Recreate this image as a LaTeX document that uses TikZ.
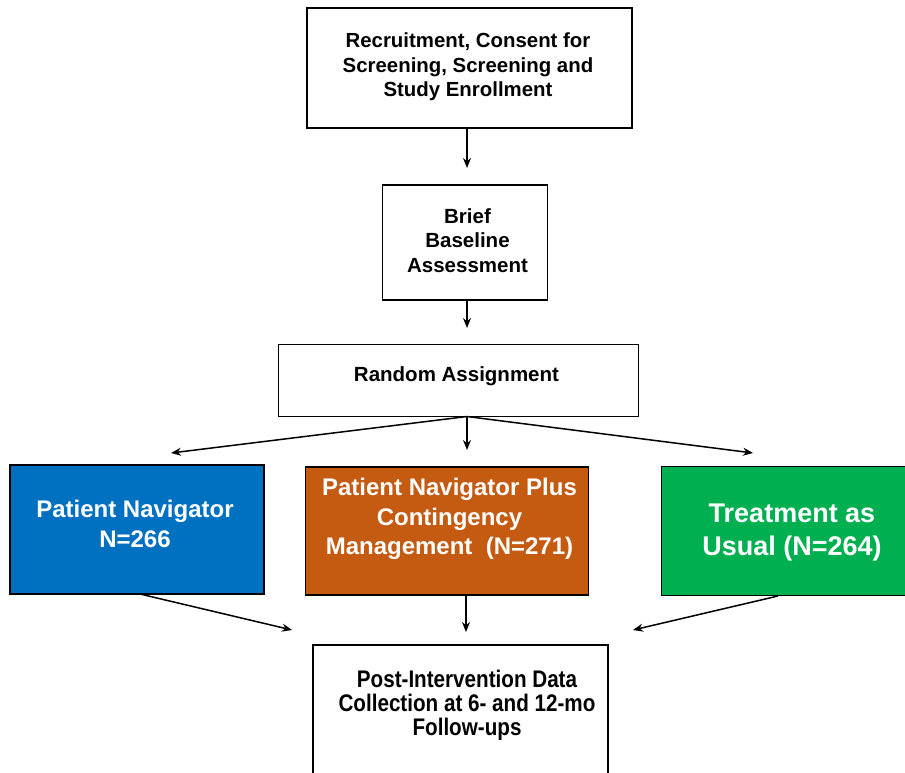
\documentclass[tikz,border=0pt]{standalone}
\usepackage{fontspec}
\setmainfont{Liberation Sans}
\newfontfamily\narrowfont[FakeStretch=0.86]{Liberation Sans}
\usetikzlibrary{arrows.meta}
\definecolor{pnblue}{HTML}{0070C0}
\definecolor{pnorange}{HTML}{C55A11}
\definecolor{pngreen}{HTML}{00B050}
\tikzset{
  box/.style={draw=black, line width=1.6pt, inner sep=0pt, outer sep=0pt},
  txt/.style={anchor=base, inner sep=0pt, font=\bfseries},
  wtxt/.style={txt, text=white},
  conn/.style={line width=1.5pt, -{Stealth[length=10pt,width=8pt]}},
}
\begin{document}
\begin{tikzpicture}[x=1pt,y=-1pt]
\useasboundingbox (0,0) rectangle (905,773);
\clip (0,0) rectangle (905,773);
% boxes
\node[box, minimum width=325pt, minimum height=120pt] (top) at (469.5,68) {};
\node[box, minimum width=165pt, minimum height=115pt] (brief) at (465,242.5) {};
\node[box, minimum width=360pt, minimum height=72pt] (rand) at (458.5,380.5) {};
\node[box, fill=pnblue, minimum width=254pt, minimum height=129pt] (pn) at (137,529.5) {};
\node[box, fill=pnorange, minimum width=283pt, minimum height=128pt] (pncm) at (447,531) {};
\node[box, fill=pngreen, minimum width=260pt, minimum height=129pt] (tau) at (791.5,531) {};
\node[box, minimum width=295pt, minimum height=160pt] (post) at (460.5,725) {};
% texts
\node[txt, font=\bfseries\fontsize{20.4}{24}\selectfont] (t1) at (468,48) {Recruitment, Consent for};
\node[txt, font=\bfseries\fontsize{20.4}{24}\selectfont] (t2) at (468,73) {Screening, Screening and};
\node[txt, font=\bfseries\fontsize{20.4}{24}\selectfont] (t3) at (468,97) {Study Enrollment};
\node[txt, font=\bfseries\fontsize{20.5}{24}\selectfont] (b1) at (467.5,223) {Brief};
\node[txt, font=\bfseries\fontsize{20.5}{24}\selectfont] (b2) at (467.5,247.5) {Baseline};
\node[txt, font=\bfseries\fontsize{20.5}{24}\selectfont] (b3) at (467.5,272) {Assessment};
\node[txt, font=\bfseries\fontsize{20.5}{24}\selectfont] (r1) at (456.5,381) {Random Assignment};
\node[wtxt, font=\bfseries\fontsize{24}{30}\selectfont] (p1) at (135,517) {Patient Navigator};
\node[wtxt, font=\bfseries\fontsize{24}{30}\selectfont] (p2) at (135,547) {N=266};
\node[wtxt, font=\bfseries\fontsize{24}{30}\selectfont] (c1) at (449.5,495) {Patient Navigator Plus};
\node[wtxt, font=\bfseries\fontsize{24}{30}\selectfont] (c2) at (449.5,525) {Contingency};
\node[wtxt, font=\bfseries\fontsize{24}{30}\selectfont] (c3) at (449.5,554) {Management\ \ (N=271)};
\node[wtxt, font=\bfseries\fontsize{27}{33}\selectfont] (g1) at (792,522) {Treatment as};
\node[wtxt, font=\bfseries\fontsize{27}{33}\selectfont] (g2) at (792,555) {Usual (N=264)};
\node[txt, font=\narrowfont\bfseries\fontsize{24}{24}\selectfont] (f1) at (467,687) {Post-Intervention Data};
\node[txt, font=\narrowfont\bfseries\fontsize{24}{24}\selectfont] (f2) at (467,711) {Collection at 6- and 12-mo};
\node[txt, font=\narrowfont\bfseries\fontsize{24}{24}\selectfont] (f3) at (467,735) {Follow-ups};
% connector coordinates
\coordinate (a1s) at (467,128);
\coordinate (a1e) at (467,168);
\coordinate (a2s) at (467,300);
\coordinate (a2e) at (467,328);
\coordinate (rs) at (467,416.5);
\coordinate (rl) at (171,453);
\coordinate (rm) at (467,450);
\coordinate (rr) at (753,453);
\coordinate (bs) at (140,594);
\coordinate (be) at (292,630);
\coordinate (os) at (466,595);
\coordinate (oe) at (466,632);
\coordinate (gs) at (778,596);
\coordinate (ge) at (633,630);
\draw[conn] (a1s) -- (a1e);
\draw[conn] (a2s) -- (a2e);
\draw[conn] (rs) -- (rl);
\draw[conn] (rs) -- (rm);
\draw[conn] (rs) -- (rr);
\draw[conn] (bs) -- (be);
\draw[conn] (os) -- (oe);
\draw[conn] (gs) -- (ge);
\end{tikzpicture}
\end{document}
